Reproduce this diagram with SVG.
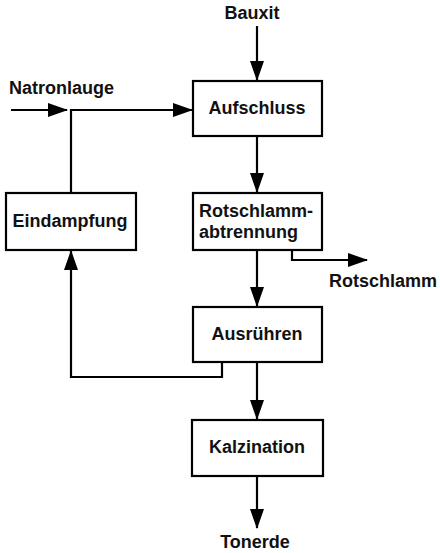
<svg xmlns="http://www.w3.org/2000/svg" width="440" height="553" viewBox="0 0 440 553">
  <style>
    .box { fill: #fff; stroke: #000; stroke-width: 2.2; }
    .line { fill: none; stroke: #000; stroke-width: 2.2; }
    .lbl { font-family: "Liberation Sans", Arial, sans-serif; font-weight: bold; font-size: 18px; fill: #111; }
    .mid { text-anchor: middle; }
  </style>
  <defs>
    <marker id="arrow" markerUnits="userSpaceOnUse" markerWidth="20" markerHeight="14" refX="19" refY="7" orient="auto">
      <path d="M0,0 L20,7 L0,14 Z" fill="#000"/>
    </marker>
  </defs>

  <!-- flow lines -->
  <g id="connectors">
    <line class="line" x1="257" y1="26" x2="257" y2="80" marker-end="url(#arrow)"/>
    <line class="line" x1="11" y1="110" x2="67" y2="110" marker-end="url(#arrow)"/>
    <polyline class="line" points="71,193 71,110 192,110" marker-end="url(#arrow)"/>
    <line class="line" x1="257" y1="136" x2="257" y2="192" marker-end="url(#arrow)"/>
    <polyline class="line" points="292,250 292,260 367,260" marker-end="url(#arrow)"/>
    <line class="line" x1="257" y1="250" x2="257" y2="306" marker-end="url(#arrow)"/>
    <polyline class="line" points="222,362 222,377 71,377 71,251" marker-end="url(#arrow)"/>
    <line class="line" x1="257" y1="362" x2="257" y2="419" marker-end="url(#arrow)"/>
    <line class="line" x1="257" y1="476" x2="257" y2="528" marker-end="url(#arrow)"/>
  </g>

  <!-- external inputs / outputs -->
  <text class="lbl mid" x="252" y="19" font-size="15">Bauxit</text>
  <text class="lbl" x="9" y="94">Natronlauge</text>
  <text class="lbl" x="329" y="287">Rotschlamm</text>
  <text class="lbl mid" x="255" y="548">Tonerde</text>

  <g id="aufschluss">
    <rect class="box" x="193" y="81" width="129" height="55"/>
    <text class="lbl mid" x="257" y="114">Aufschluss</text>
  </g>
  <g id="eindampfung">
    <rect class="box" x="6" y="193" width="130" height="57"/>
    <text class="lbl mid" x="70" y="227">Eindampfung</text>
  </g>
  <g id="rotschlammabtrennung">
    <rect class="box" x="193" y="193" width="129" height="57"/>
    <text class="lbl" x="199" y="217">Rotschlamm-</text>
    <text class="lbl" x="199" y="238">abtrennung</text>
  </g>
  <g id="ausruehren">
    <rect class="box" x="193" y="307" width="129" height="55"/>
    <text class="lbl mid" x="257" y="340">Ausrühren</text>
  </g>
  <g id="kalzination">
    <rect class="box" x="192" y="420" width="131" height="56"/>
    <text class="lbl mid" x="257" y="453">Kalzination</text>
  </g>
</svg>
